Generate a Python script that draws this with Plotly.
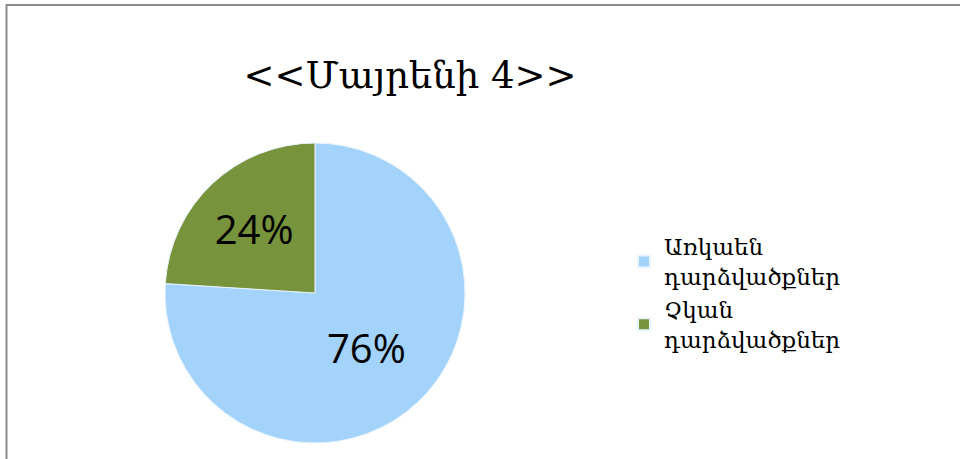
import plotly.graph_objects as go

labels = ["Առկաեն<br>դարձվածքներ", "Չկան<br>դարձվածքներ"]
values = [76, 24]
colors = ["#A3D3FA", "#77933C"]

W, H = 960, 459

fig = go.Figure()
fig.add_trace(go.Pie(
    labels=labels,
    values=values,
    sort=False,
    direction="clockwise",
    rotation=0,
    marker=dict(colors=colors, line=dict(color="#E8F4FF", width=1)),
    textinfo="percent",
    textposition="inside",
    insidetextorientation="horizontal",
    textfont=dict(family="Open Sans, Liberation Sans, sans-serif", size=40, color="#000000"),
    domain=dict(x=[(315 - 150) / W, (315 + 150) / W], y=[(H - 293 - 150) / H, (H - 293 + 150) / H]),
    hoverinfo="label+percent",
))

fig.update_layout(
    width=W, height=H,
    margin=dict(l=0, r=0, t=0, b=0),
    paper_bgcolor="white",
    plot_bgcolor="white",
    title=dict(
        text="<<Մայրենի 4>>",
        x=410 / W, xanchor="center",
        y=1 - 75 / H, yanchor="middle",
        font=dict(family="DejaVu Serif, serif", size=37, color="#000000"),
    ),
    legend=dict(
        x=624 / W, xanchor="left",
        y=1 - 293 / H, yanchor="middle",
        font=dict(family="DejaVu Serif, serif", size=23, color="#000000"),
        itemsizing="constant",
        bgcolor="rgba(0,0,0,0)",
    ),
    showlegend=True,
    shapes=[
        dict(type="rect", xref="paper", yref="paper",
             x0=6.5 / W, x1=1.02, y0=-0.05, y1=1 - 5 / H,
             line=dict(color="#8C8C8C", width=2), fillcolor="rgba(0,0,0,0)"),
    ],
)

fig.write_html("out.html")
